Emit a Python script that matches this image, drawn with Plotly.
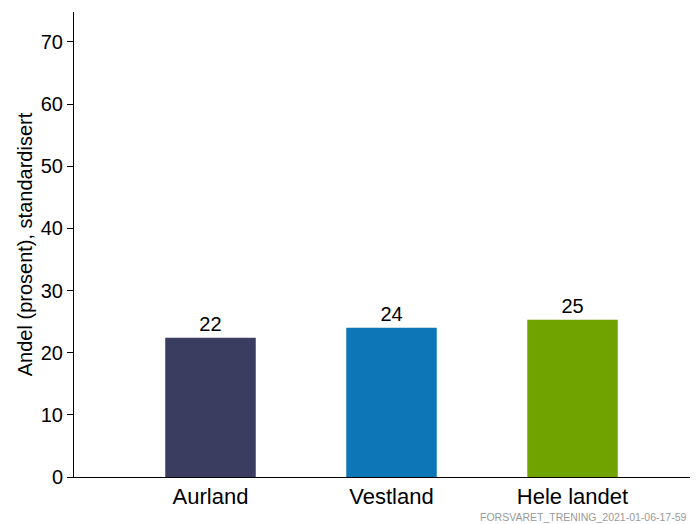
import plotly.graph_objects as go

categories = ["Aurland", "Vestland", "Hele landet"]
values = [22.4, 24.0, 25.3]
labels = ["22", "24", "25"]
colors = ["#3a3c60", "#0d76b6", "#71a300"]
y_ticks = [0, 10, 20, 30, 40, 50, 60, 70]

fig = go.Figure()
fig.add_trace(go.Bar(
    x=categories, y=values, text=labels, textposition="outside",
    marker=dict(color=colors, line=dict(width=0)),
    textfont=dict(size=20, color="#000000"),
    width=0.5, cliponaxis=False,
))

fig.update_layout(
    width=682, height=516,
    margin=dict(l=66, r=0, t=4, b=47),
    paper_bgcolor="white", plot_bgcolor="white",
    font=dict(family="Liberation Sans, Arial, sans-serif", color="#000000"),
    showlegend=False,
    xaxis=dict(
        range=[-0.754, 2.649], showline=True, linecolor="#000000", linewidth=1,
        ticks="", tickfont=dict(size=22), showgrid=False, zeroline=False,
    ),
    yaxis=dict(
        range=[0, 74.8], tickvals=y_ticks, showline=True, linecolor="#000000",
        linewidth=1, ticks="outside", ticklen=6, tickcolor="#000000",
        tickfont=dict(size=20), showgrid=False, zeroline=False,
        title=dict(text="Andel (prosent), standardisert", font=dict(size=20), standoff=2),
    ),
    annotations=[dict(
        text="FORSVARET_TRENING_2021-01-06-17-59", xref="paper", yref="paper",
        x=1, y=-47 / 465, xanchor="right", yanchor="bottom", xshift=-1, yshift=-1,
        showarrow=False, font=dict(size=10.5, color="#999999"),
    )],
)

fig.write_html("out.html")
